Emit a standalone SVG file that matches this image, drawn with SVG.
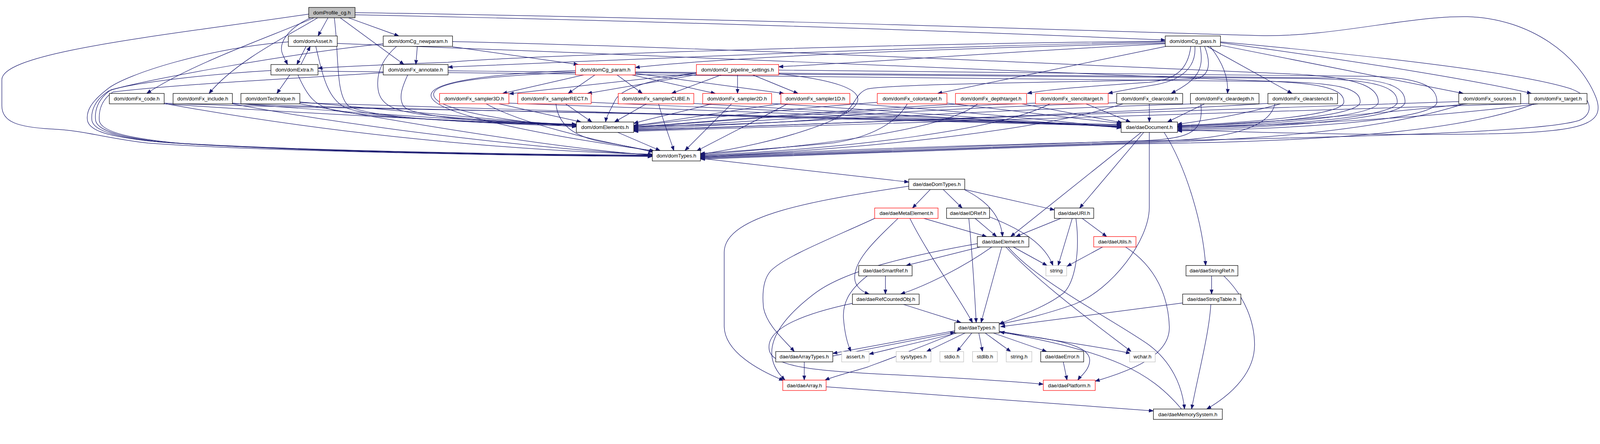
<svg xmlns="http://www.w3.org/2000/svg" width="4323" height="1136" viewBox="0 0 4323 1136">
<defs>
<marker id="ah" markerUnits="userSpaceOnUse" markerWidth="13" markerHeight="10" refX="12" refY="5" orient="auto"><path d="M0,0.5 L12,5 L0,9.5 z" fill="#191970" stroke="#191970" stroke-width="1"/></marker>
</defs>
<style>
.e{fill:none;stroke:#191970;stroke-width:1.3;marker-end:url(#ah)}
.n rect{fill:#fff;stroke:#000;stroke-width:1.3}
.n.r rect{stroke:#f00}
.n.g rect{stroke:#bfbfbf}
.n.root rect{fill:#bfbfbf}
.n text{font-family:"Liberation Sans",Arial,sans-serif;font-size:14px;text-anchor:middle;fill:#000}
</style>
<rect width="4323" height="1136" fill="#fff"/>
<g id="graph" transform="scale(0.9488)">
<g id="edges">
<path class="e" d="M833,38 C450,95 5,140 5,215 L5,285 C5,330 50,343 140,348 C230,352 280,372 400,386 C700,408 1400,420 1760,422"/>
<path class="e" d="M885,48 L858,97"/>
<path class="e" d="M838,48 C770,80 752,120 762,145 C767,158 772,166 776,174"/>
<path class="e" d="M847,48 C740,95 520,170 396,252"/>
<path class="e" d="M857,48 C790,90 640,160 564,252"/>
<path class="e" d="M902,48 C915,150 905,255 940,285 C990,318 1300,333 1555,340"/>
<path class="e" d="M918,48 L1090,174"/>
<path class="e" d="M940,48 L1076,97"/>
<path class="e" d="M958,40 C1700,55 2500,80 3144,108"/>
<path class="e" d="M958,34 C2000,50 3000,85 3400,96 C3600,100 3800,42 3960,45 C4130,50 4260,150 4305,260 C4340,345 4250,358 3950,362 C3600,365 3350,355 3177,350"/>
<path class="e" d="M826,125 L801,174"/>
<path class="e" d="M812,174 L837,125"/>
<path class="e" d="M778,113 C560,130 340,200 290,240 C245,275 232,300 236,325 C242,355 300,368 400,380 C700,405 1400,417 1760,418"/>
<path class="e" d="M852,125 C870,200 882,262 928,288 C990,320 1300,332 1555,337"/>
<path class="e" d="M910,117 C1800,150 2900,200 3400,218 C3570,224 3626,240 3626,275 C3626,315 3300,335 3177,338"/>
<path class="e" d="M782,202 L747,252"/>
<path class="e" d="M731,190 C560,200 340,225 292,246 C255,270 245,300 248,325 C254,355 320,370 430,383 C750,406 1400,418 1760,419"/>
<path class="e" d="M804,202 C830,262 852,286 900,297 C1000,318 1300,330 1555,336"/>
<path class="e" d="M858,192 C2000,205 3000,213 3450,220 C3620,224 3670,240 3670,275 C3670,318 3320,338 3177,341"/>
<path class="e" d="M1126,125 L1122,174"/>
<path class="e" d="M1221,126 L1560,174"/>
<path class="e" d="M1034,118 C780,145 420,210 300,242 C262,268 255,300 258,325 C264,356 340,372 460,385 C800,408 1400,419 1760,420"/>
<path class="e" d="M1070,125 C1030,160 1015,200 1020,240 C1025,282 1060,300 1150,310 C1300,325 1450,332 1555,335"/>
<path class="e" d="M1221,112 C2000,130 3000,180 3500,200 C3680,210 3719,240 3719,275 C3719,320 3340,340 3177,344"/>
<path class="e" d="M1034,196 C860,208 500,225 305,248 C272,270 266,300 268,326 C274,358 360,374 490,387 C850,410 1400,420 1760,421"/>
<path class="e" d="M1100,202 C1085,235 1075,262 1088,285 C1105,315 1300,330 1555,338"/>
<path class="e" d="M1209,191 C2000,200 3000,208 3550,212 C3730,216 3770,240 3770,275 C3770,322 3360,343 3177,347"/>
<path class="e" d="M1575,202 L1356,252"/>
<path class="e" d="M1605,202 L1533,252"/>
<path class="e" d="M1665,202 L1733,252"/>
<path class="e" d="M1705,202 L1930,252"/>
<path class="e" d="M1714,198 L2115,252"/>
<path class="e" d="M1553,195 C1300,205 1168,222 1170,255 C1172,300 1400,330 1555,342"/>
<path class="e" d="M1553,190 C1290,200 1160,225 1163,258 C1166,310 1500,370 1765,407"/>
<path class="e" d="M1714,194 C2500,203 3200,208 3600,210 C3760,213 3791,240 3791,275 C3791,325 3380,346 3177,350"/>
<path class="e" d="M1881,197 L1374,253"/>
<path class="e" d="M1881,201 L1585,252"/>
<path class="e" d="M1946,202 L1812,252"/>
<path class="e" d="M1990,202 L1990,252"/>
<path class="e" d="M2031,202 L2153,252"/>
<path class="e" d="M1879,198 C1750,215 1675,240 1660,270 C1645,300 1636,315 1634,329"/>
<path class="e" d="M2101,199 C2250,215 2322,240 2314,272 C2305,320 2100,385 1890,416"/>
<path class="e" d="M2101,189 C2800,197 3300,203 3700,206 C3850,210 3877,240 3877,275 C3877,330 3400,350 3177,353"/>
<path class="e" d="M3144,113 C2500,125 1700,160 1209,181"/>
<path class="e" d="M3144,111 C2400,118 1400,150 1209,168 C1100,172 950,178 858,184"/>
<path class="e" d="M3144,116 C2600,130 2000,150 1714,182"/>
<path class="e" d="M3144,118 C2700,140 2400,165 2101,180"/>
<path class="e" d="M3146,125 L2530,252"/>
<path class="e" d="M3213,125 C3205,190 3170,215 3100,222 C2950,232 2830,240 2772,252"/>
<path class="e" d="M3224,125 C3228,180 3190,215 3120,228 C3060,238 3020,245 2990,252"/>
<path class="e" d="M3238,125 C3250,190 3230,215 3160,252"/>
<path class="e" d="M3265,125 C3300,170 3315,210 3312,252"/>
<path class="e" d="M3257,125 L3486,252"/>
<path class="e" d="M3293,122 L3948,252"/>
<path class="e" d="M3293,115 C3700,170 4000,220 4132,252"/>
<path class="e" d="M3293,113 C3700,150 4100,195 4240,240 C4300,262 4300,310 4260,325 C4150,360 3500,372 3200,378 C2700,388 2200,405 1890,424"/>
<path class="e" d="M3250,125 C3268,170 3265,205 3225,213 C2900,222 2420,225 2340,240 C2300,255 2310,300 2250,318 C2100,335 1800,339 1710,341"/>
<path class="e" d="M441,280 C800,305 1300,330 1555,338"/>
<path class="e" d="M448,280 C1000,380 1500,410 1760,416"/>
<path class="e" d="M443,278 C700,290 1500,300 2200,315 C2600,325 2900,333 3025,336"/>
<path class="e" d="M627,278 C900,300 1300,328 1555,336"/>
<path class="e" d="M627,280 C1000,350 1500,405 1760,417"/>
<path class="e" d="M627,279 C900,292 1600,303 2200,317 C2600,327 2900,335 3025,338"/>
<path class="e" d="M809,275 C1100,300 1400,330 1555,337"/>
<path class="e" d="M809,280 C1200,350 1550,405 1760,418"/>
<path class="e" d="M809,277 C1100,290 1700,305 2200,319 C2600,329 2900,337 3025,340"/>
<path class="e" d="M1346,280 L1568,329"/>
<path class="e" d="M1312,280 C1400,330 1600,380 1765,408"/>
<path class="e" d="M1373,278 C1800,295 2500,318 3025,341"/>
<path class="e" d="M1526,280 L1597,329"/>
<path class="e" d="M1500,280 C1505,330 1540,370 1640,385 C1700,395 1740,405 1762,410"/>
<path class="e" d="M1595,276 C2000,292 2600,320 3025,342"/>
<path class="e" d="M1744,280 L1658,329"/>
<path class="e" d="M1777,280 C1790,330 1810,380 1818,406"/>
<path class="e" d="M1872,279 C2300,300 2700,325 3025,343"/>
<path class="e" d="M1920,280 C1850,300 1750,320 1710,333"/>
<path class="e" d="M1974,280 L1848,406"/>
<path class="e" d="M2082,279 C2400,300 2800,326 3025,344"/>
<path class="e" d="M2107,280 C1950,300 1800,330 1710,338"/>
<path class="e" d="M2125,280 C2050,320 1950,370 1880,407"/>
<path class="e" d="M2293,279 C2600,300 2850,326 3025,345"/>
<path class="e" d="M2367,276 C2100,295 1800,330 1710,340"/>
<path class="e" d="M2448,280 C2420,330 2350,370 2250,385 C2100,400 1950,410 1890,414"/>
<path class="e" d="M2555,278 L3025,333"/>
<path class="e" d="M2600,280 C2200,300 1900,330 1710,342"/>
<path class="e" d="M2638,280 C2550,350 2200,395 1890,417"/>
<path class="e" d="M2757,280 L3028,331"/>
<path class="e" d="M2794,278 C2300,295 1900,330 1710,344"/>
<path class="e" d="M2833,280 C2700,350 2300,400 1890,419"/>
<path class="e" d="M2930,280 L3050,329"/>
<path class="e" d="M3013,277 C2500,292 2000,330 1710,346"/>
<path class="e" d="M3030,280 C2800,355 2300,405 1890,421"/>
<path class="e" d="M3101,280 L3101,329"/>
<path class="e" d="M3220,280 C2700,295 2100,332 1710,348"/>
<path class="e" d="M3240,280 C3250,370 3200,378 3000,382 C2600,395 2100,415 1890,423"/>
<path class="e" d="M3250,280 L3150,329"/>
<path class="e" d="M3421,279 C3000,305 2200,336 1710,350"/>
<path class="e" d="M3440,280 C3420,365 3250,378 3050,384 C2600,398 2100,417 1890,425"/>
<path class="e" d="M3455,280 C3350,310 3250,325 3177,335"/>
<path class="e" d="M3936,274 C3300,290 2300,334 1710,352"/>
<path class="e" d="M3950,280 C3700,362 3300,380 3050,386 C2600,400 2100,419 1890,427"/>
<path class="e" d="M3960,280 C3600,320 3300,336 3177,340"/>
<path class="e" d="M4125,279 C3400,300 2300,338 1710,354"/>
<path class="e" d="M4140,280 C3900,372 3400,384 3050,388 C2600,402 2100,421 1890,429"/>
<path class="e" d="M4150,280 C3800,325 3400,340 3177,343"/>
<path class="e" d="M1667,357 L1781,406"/>
<path class="e" d="M1890,427 L2452,491"/>
<path class="e" d="M2510,511 L2462,561"/>
<path class="e" d="M2545,511 L2596,561"/>
<path class="e" d="M2603,512 C2660,540 2700,580 2705,638"/>
<path class="e" d="M2603,511 L2845,566"/>
<path class="e" d="M2452,502 C2200,540 1955,580 1954,680 L1954,880 C1955,950 2050,1000 2114,1026"/>
<path class="e" d="M2493,589 L2662,638"/>
<path class="e" d="M2362,588 C2250,640 2120,690 2080,730 C2057,755 2057,800 2060,830 C2070,880 2120,920 2143,948"/>
<path class="e" d="M2423,589 C2360,650 2305,700 2306,750 C2307,775 2330,788 2345,793"/>
<path class="e" d="M2455,589 C2500,680 2580,790 2624,870"/>
<path class="e" d="M2631,589 L2689,638"/>
<path class="e" d="M2670,585 C2760,620 2820,660 2841,716"/>
<path class="e" d="M2614,589 C2625,700 2630,800 2634,870"/>
<path class="e" d="M2862,589 L2741,638"/>
<path class="e" d="M2893,589 L2855,716"/>
<path class="e" d="M2920,589 L2986,638"/>
<path class="e" d="M2903,589 C2915,680 2900,760 2870,790 C2820,830 2740,855 2696,874"/>
<path class="e" d="M2975,666 L2879,718"/>
<path class="e" d="M3037,666 C3120,720 3152,800 3155,880 C3158,960 3050,1000 2955,1028"/>
<path class="e" d="M2734,666 L2825,716"/>
<path class="e" d="M2645,666 L2445,716"/>
<path class="e" d="M2676,666 C2600,720 2500,770 2430,793"/>
<path class="e" d="M2703,666 L2647,870"/>
<path class="e" d="M2714,666 C2800,760 2950,870 3052,948"/>
<path class="e" d="M2720,666 C2800,760 3000,860 3100,930 C3160,975 3190,1040 3196,1103"/>
<path class="e" d="M2637,657 C2450,690 2280,730 2200,790 C2080,880 2050,960 2118,1025"/>
<path class="e" d="M3079,357 L2727,638"/>
<path class="e" d="M3086,357 L2913,561"/>
<path class="e" d="M3101,357 L3101,560 C3100,650 3000,780 2900,820 C2800,855 2740,865 2698,874"/>
<path class="e" d="M3141,357 C3200,450 3245,600 3253,716"/>
<path class="e" d="M2389,744 L2389,793"/>
<path class="e" d="M2340,744 C2300,775 2272,810 2276,860 C2280,910 2290,935 2296,948"/>
<path class="e" d="M2438,821 L2593,870"/>
<path class="e" d="M2300,818 C2150,850 2070,890 2075,940 C2078,990 2200,1000 2400,1010 C2600,1020 2750,1030 2815,1036"/>
<path class="e" d="M3269,744 L3269,793"/>
<path class="e" d="M3302,744 C3360,800 3385,870 3385,930 C3385,1000 3330,1060 3256,1103"/>
<path class="e" d="M3267,821 C3262,900 3235,1000 3215,1103"/>
<path class="e" d="M3191,817 L2700,881"/>
<path class="e" d="M2576,892 L2247,953"/>
<path class="e" d="M2247,960 L2576,896"/>
<path class="e" d="M2583,898 L2345,955"/>
<path class="e" d="M2604,898 L2500,948"/>
<path class="e" d="M2622,898 L2582,948"/>
<path class="e" d="M2641,898 L2651,948"/>
<path class="e" d="M2658,898 L2727,948"/>
<path class="e" d="M2680,898 L2824,948"/>
<path class="e" d="M2696,893 C2850,920 3000,940 3050,953"/>
<path class="e" d="M2696,896 C2850,915 2945,930 2940,975 C2937,1000 2915,1015 2908,1025"/>
<path class="e" d="M2578,898 C2450,950 2380,975 2340,990 C2290,1005 2250,1015 2226,1025"/>
<path class="e" d="M3188,1103 C3100,1000 3000,950 2698,895"/>
<path class="e" d="M2170,976 L2170,1025"/>
<path class="e" d="M2229,1043 L3112,1108"/>
<path class="e" d="M2869,976 L2879,1025"/>
</g>
<g id="n_profile" class="n root"><rect x="833" y="20" width="125" height="28"/><text x="895.5" y="39">domProfile_cg.h</text></g>
<g id="n_asset" class="n"><rect x="778" y="97" width="132" height="28"/><text x="844" y="116">dom/domAsset.h</text></g>
<g id="n_newparam" class="n"><rect x="1034" y="97" width="187" height="28"/><text x="1127.5" y="116">dom/domCg_newparam.h</text></g>
<g id="n_pass" class="n"><rect x="3144" y="97" width="149" height="28"/><text x="3218.5" y="116">dom/domCg_pass.h</text></g>
<g id="n_extra" class="n"><rect x="731" y="174" width="127" height="28"/><text x="794.5" y="193">dom/domExtra.h</text></g>
<g id="n_annotate" class="n"><rect x="1034" y="174" width="175" height="28"/><text x="1121.5" y="193">dom/domFx_annotate.h</text></g>
<g id="n_cgparam" class="n r"><rect x="1553" y="174" width="161" height="28"/><text x="1633.5" y="193">dom/domCg_param.h</text></g>
<g id="n_glpipe" class="n r"><rect x="1879" y="174" width="222" height="28"/><text x="1990" y="193">dom/domGl_pipeline_settings.h</text></g>
<g id="n_code" class="n"><rect x="295" y="252" width="148" height="28"/><text x="369" y="271">dom/domFx_code.h</text></g>
<g id="n_include" class="n"><rect x="467" y="252" width="160" height="28"/><text x="547" y="271">dom/domFx_include.h</text></g>
<g id="n_technique" class="n"><rect x="650" y="252" width="159" height="28"/><text x="729.5" y="271">dom/domTechnique.h</text></g>
<g id="n_s3d" class="n r"><rect x="1186" y="252" width="187" height="28"/><text x="1279.5" y="271">dom/domFx_sampler3D.h</text></g>
<g id="n_srect" class="n r"><rect x="1397" y="252" width="198" height="28"/><text x="1496" y="271">dom/domFx_samplerRECT.h</text></g>
<g id="n_scube" class="n r"><rect x="1668" y="252" width="204" height="28"/><text x="1770" y="271">dom/domFx_samplerCUBE.h</text></g>
<g id="n_s2d" class="n r"><rect x="1896" y="252" width="186" height="28"/><text x="1989" y="271">dom/domFx_sampler2D.h</text></g>
<g id="n_s1d" class="n r"><rect x="2107" y="252" width="186" height="28"/><text x="2200" y="271">dom/domFx_sampler1D.h</text></g>
<g id="n_color" class="n r"><rect x="2367" y="252" width="188" height="28"/><text x="2461" y="271">dom/domFx_colortarget.h</text></g>
<g id="n_depth" class="n r"><rect x="2578" y="252" width="192" height="28"/><text x="2674" y="271">dom/domFx_depthtarget.h</text></g>
<g id="n_stencil" class="n r"><rect x="2794" y="252" width="196" height="28"/><text x="2892" y="271">dom/domFx_stenciltarget.h</text></g>
<g id="n_clearcolor" class="n"><rect x="3013" y="252" width="178" height="28"/><text x="3102" y="271">dom/domFx_clearcolor.h</text></g>
<g id="n_cleardepth" class="n"><rect x="3212" y="252" width="185" height="28"/><text x="3304.5" y="271">dom/domFx_cleardepth.h</text></g>
<g id="n_clearstencil" class="n"><rect x="3421" y="252" width="188" height="28"/><text x="3515" y="271">dom/domFx_clearstencil.h</text></g>
<g id="n_sources" class="n"><rect x="3936" y="252" width="167" height="28"/><text x="4019.5" y="271">dom/domFx_sources.h</text></g>
<g id="n_target" class="n"><rect x="4125" y="252" width="157" height="28"/><text x="4203.5" y="271">dom/domFx_target.h</text></g>
<g id="n_elements" class="n"><rect x="1555" y="329" width="155" height="28"/><text x="1632.5" y="348">dom/domElements.h</text></g>
<g id="n_document" class="n"><rect x="3025" y="329" width="152" height="28"/><text x="3101" y="348">dae/daeDocument.h</text></g>
<g id="n_domtypes" class="n"><rect x="1760" y="406" width="130" height="28"/><text x="1825" y="425">dom/domTypes.h</text></g>
<g id="n_daedomtypes" class="n"><rect x="2452" y="483" width="151" height="28"/><text x="2527.5" y="502">dae/daeDomTypes.h</text></g>
<g id="n_metaelement" class="n r"><rect x="2360" y="561" width="171" height="28"/><text x="2445.5" y="580">dae/daeMetaElement.h</text></g>
<g id="n_idref" class="n"><rect x="2554" y="561" width="116" height="28"/><text x="2612" y="580">dae/daeIDRef.h</text></g>
<g id="n_uri" class="n"><rect x="2845" y="561" width="106" height="28"/><text x="2898" y="580">dae/daeURI.h</text></g>
<g id="n_element" class="n"><rect x="2637" y="638" width="139" height="28"/><text x="2706.5" y="657">dae/daeElement.h</text></g>
<g id="n_utils" class="n r"><rect x="2951" y="638" width="114" height="28"/><text x="3008" y="657">dae/daeUtils.h</text></g>
<g id="n_smartref" class="n"><rect x="2317" y="716" width="144" height="28"/><text x="2389" y="735">dae/daeSmartRef.h</text></g>
<g id="n_string" class="n g"><rect x="2822" y="716" width="56" height="28"/><text x="2850" y="735">string</text></g>
<g id="n_stringref" class="n"><rect x="3200" y="716" width="140" height="28"/><text x="3270" y="735">dae/daeStringRef.h</text></g>
<g id="n_refcounted" class="n"><rect x="2300" y="793" width="180" height="28"/><text x="2390" y="812">dae/daeRefCountedObj.h</text></g>
<g id="n_stringtable" class="n"><rect x="3191" y="793" width="157" height="28"/><text x="3269.5" y="812">dae/daeStringTable.h</text></g>
<g id="n_daetypes" class="n"><rect x="2576" y="870" width="120" height="28"/><text x="2636" y="889">dae/daeTypes.h</text></g>
<g id="n_arraytypes" class="n"><rect x="2093" y="948" width="154" height="28"/><text x="2170" y="967">dae/daeArrayTypes.h</text></g>
<g id="n_assert" class="n g"><rect x="2271" y="948" width="74" height="28"/><text x="2308" y="967">assert.h</text></g>
<g id="n_systypes" class="n g"><rect x="2418" y="948" width="94" height="28"/><text x="2465" y="967">sys/types.h</text></g>
<g id="n_stdio" class="n g"><rect x="2536" y="948" width="64" height="28"/><text x="2568" y="967">stdio.h</text></g>
<g id="n_stdlib" class="n g"><rect x="2624" y="948" width="67" height="28"/><text x="2657.5" y="967">stdlib.h</text></g>
<g id="n_stringh" class="n g"><rect x="2715" y="948" width="69" height="28"/><text x="2749.5" y="967">string.h</text></g>
<g id="n_error" class="n"><rect x="2808" y="948" width="116" height="28"/><text x="2866" y="967">dae/daeError.h</text></g>
<g id="n_wchar" class="n g"><rect x="3048" y="948" width="69" height="28"/><text x="3082.5" y="967">wchar.h</text></g>
<g id="n_array" class="n r"><rect x="2112" y="1025" width="117" height="28"/><text x="2170.5" y="1044">dae/daeArray.h</text></g>
<g id="n_platform" class="n r"><rect x="2815" y="1025" width="140" height="28"/><text x="2885" y="1044">dae/daePlatform.h</text></g>
<g id="n_memsys" class="n"><rect x="3112" y="1103" width="186" height="28"/><text x="3205" y="1122">dae/daeMemorySystem.h</text></g>
</g>
</svg>
